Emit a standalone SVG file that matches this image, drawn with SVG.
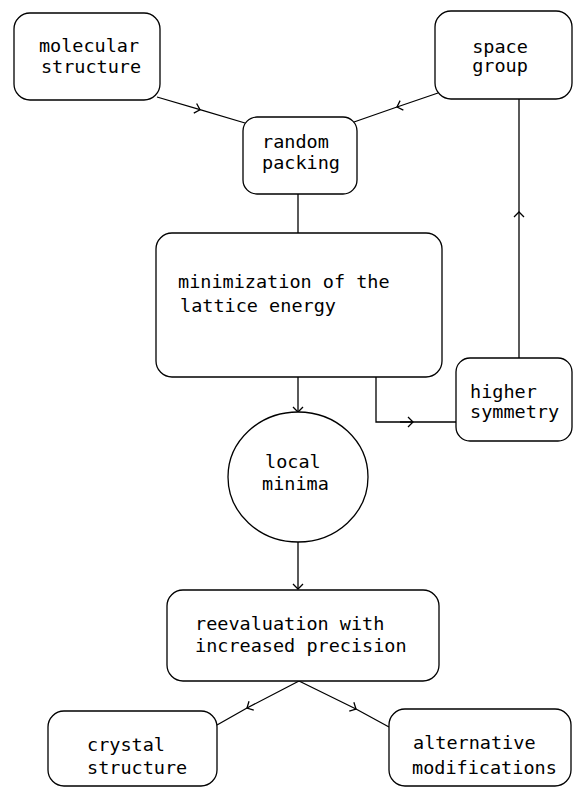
<svg xmlns="http://www.w3.org/2000/svg" width="573" height="788" viewBox="0 0 573 788">
<style>
.box{fill:#fff;stroke:#000;stroke-width:1.3}
.t{font-family:"DejaVu Sans Mono","Liberation Mono",monospace;font-size:18.5px;fill:#000}
.c{fill:none;stroke:#000;stroke-width:1.3}
</style>
<defs>
<marker id="chev" markerUnits="userSpaceOnUse" markerWidth="14" markerHeight="14" viewBox="-7 -7 14 14" refX="0" refY="0" orient="auto">
<path d="M-5,-5 L0,0 L-5,5" fill="none" stroke="#000" stroke-width="1.3"/>
</marker>
</defs>
<rect width="573" height="788" fill="#fff"/>
<g id="connectors">
<path class="c" d="M157,97 L200,109.7 L245,123" marker-mid="url(#chev)"/>
<path class="c" d="M438,93 L397,107 L354,122" marker-mid="url(#chev)"/>
<path class="c" d="M519,358 L519,212 L519,99" marker-mid="url(#chev)"/>
<path class="c" d="M298,194 L298,233"/>
<path class="c" d="M298,377 L298,412" marker-end="url(#chev)"/>
<path class="c" d="M376,377 L376,422 L456,422"/>
<path class="c" d="M400,422 L413,422" marker-end="url(#chev)"/>
<path class="c" d="M298,542 L298,589" marker-end="url(#chev)"/>
<path class="c" d="M299,681 L247,708 L217,725" marker-mid="url(#chev)"/>
<path class="c" d="M299,681 L356,709 L389,727" marker-mid="url(#chev)"/>
</g>
<g id="molecular-structure">
<rect class="box" x="14" y="13" width="146" height="87" rx="16"/>
<text class="t" x="89" y="52" text-anchor="middle">molecular</text>
<text class="t" x="91" y="73" text-anchor="middle">structure</text>
</g>
<g id="space-group">
<rect class="box" x="435" y="11" width="137" height="88" rx="16"/>
<text class="t" x="500" y="53" text-anchor="middle">space</text>
<text class="t" x="500" y="72" text-anchor="middle">group</text>
</g>
<g id="random-packing">
<rect class="box" x="243" y="117" width="114" height="77" rx="14"/>
<text class="t" x="262" y="148">random</text>
<text class="t" x="262" y="169">packing</text>
</g>
<g id="minimization">
<rect class="box" x="156" y="233" width="286" height="144" rx="16"/>
<text class="t" x="178" y="288">minimization of the</text>
<text class="t" x="180" y="312">lattice energy</text>
</g>
<g id="higher-symmetry">
<rect class="box" x="456" y="358" width="116" height="83" rx="14"/>
<text class="t" x="470" y="398">higher</text>
<text class="t" x="470" y="418">symmetry</text>
</g>
<g id="local-minima">
<ellipse class="box" cx="298" cy="477" rx="70" ry="65"/>
<text class="t" x="265" y="468">local</text>
<text class="t" x="262" y="490">minima</text>
</g>
<g id="reevaluation">
<rect class="box" x="167" y="590" width="272" height="91" rx="16"/>
<text class="t" x="195" y="630">reevaluation with</text>
<text class="t" x="195" y="652">increased precision</text>
</g>
<g id="crystal-structure">
<rect class="box" x="48" y="711" width="169" height="75" rx="16"/>
<text class="t" x="87" y="751">crystal</text>
<text class="t" x="87" y="774">structure</text>
</g>
<g id="alternative-modifications">
<rect class="box" x="389" y="709" width="182" height="77" rx="16"/>
<text class="t" x="413" y="749">alternative</text>
<text class="t" x="412" y="774">modifications</text>
</g>
</svg>
